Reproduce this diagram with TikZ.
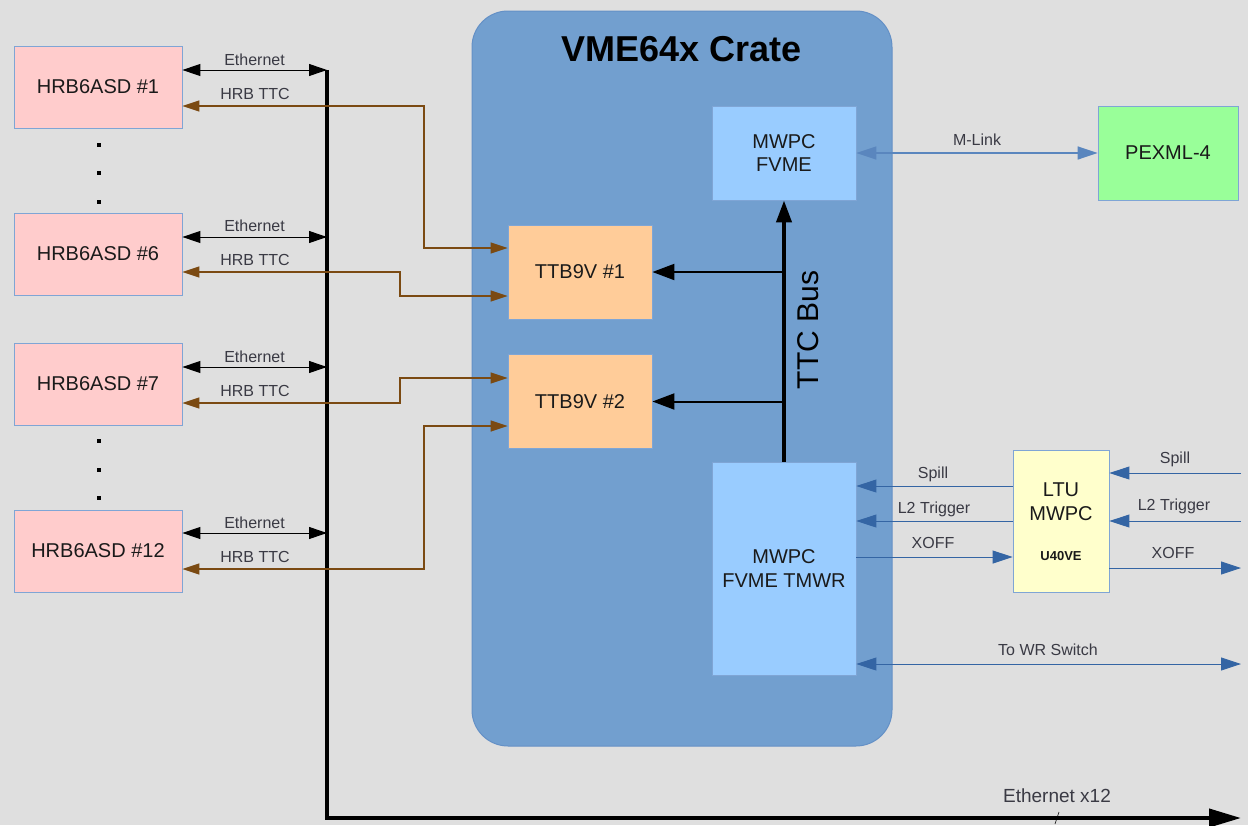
\documentclass[tikz,border=0pt]{standalone}
\usepackage{fontspec}
\setmainfont{Liberation Sans}
\usetikzlibrary{arrows.meta}
\definecolor{bgc}{HTML}{DFDFDF}
\definecolor{crateC}{HTML}{729FCF}
\definecolor{crateB}{HTML}{6490C6}
\definecolor{boxB}{HTML}{7FA5D5}
\definecolor{hrbF}{HTML}{FFCCCC}
\definecolor{ttbF}{HTML}{FFCC99}
\definecolor{fvF}{HTML}{99CCFF}
\definecolor{pxF}{HTML}{99FF99}
\definecolor{ltuF}{HTML}{FFFFCC}
\definecolor{brownC}{HTML}{7B4A12}
\definecolor{blueC}{HTML}{3465A4}
\definecolor{mlinkC}{HTML}{5A86BE}
\definecolor{lblC}{HTML}{3A3A44}
\definecolor{txtC}{HTML}{1A1A1A}
\begin{document}
\begin{tikzpicture}[x=1pt,y=-1pt,
  box/.style={draw=boxB, line width=0.8pt, inner sep=0pt, text=txtC, align=center,
    font=\fontsize{20}{23.5}\selectfont},
  hrb/.style={box, fill=hrbF, minimum width=168pt, minimum height=82pt},
  ttb/.style={box, fill=ttbF, minimum width=144pt, minimum height=94pt},
  fvme/.style={box, fill=fvF, minimum width=144pt},
  lbl/.style={anchor=base, inner sep=0pt, text=lblC, font=\fontsize{16}{19}\selectfont},
  eth/.style={draw=black, line width=1pt,
    arrows={Triangle[length=18pt,width=12pt]-Triangle[length=18pt,width=12pt]}},
  ttc/.style={draw=brownC, line width=1.5pt,
    arrows={Triangle[length=17pt,width=11pt]-Triangle[length=17pt,width=11pt]}},
  blu/.style={draw=blueC, line width=0.9pt},
  btip/.style={arrows={-Triangle[length=20pt,width=13pt]}},
  bbtip/.style={arrows={Triangle[length=20pt,width=13pt]-Triangle[length=20pt,width=13pt]}},
  tarr/.style={draw=black, line width=2pt, arrows={-Triangle[length=22pt,width=16pt]}},
  dotsq/.style={fill=black, inner sep=0pt, minimum size=4.5pt}
]
\useasboundingbox (0,0) rectangle (1248,825);
\fill[bgc] (0,0) rectangle (1248,825);

% crate
\node[draw=crateB, fill=crateC, line width=1pt, rounded corners=36pt,
  minimum width=420pt, minimum height=735pt] (crate) at (682,378.5) {};
\node[inner sep=0pt, text=black, font=\fontsize{36}{40}\selectfont\bfseries] (title) at (682,49) {VME64x Crate};

% HRB boxes
\node[hrb] (h1) at (98,87) {HRB6ASD \#1};
\node[hrb] (h6) at (98,254) {HRB6ASD \#6};
\node[hrb] (h7) at (98,384) {HRB6ASD \#7};
\node[hrb] (h12) at (98,551) {HRB6ASD \#12};

% dots
\node[dotsq] (d1) at (99,145) {};
\node[dotsq] (d2) at (99,173) {};
\node[dotsq] (d3) at (99,202) {};
\node[dotsq] (d4) at (99,441) {};
\node[dotsq] (d5) at (99,470) {};
\node[dotsq] (d6) at (99,498) {};

% crate content
\node[ttb] (t1) at (580,272) {TTB9V \#1};
\node[ttb] (t2) at (580,401.5) {TTB9V \#2};
\node[fvme, minimum height=94pt] (fv) at (784,153) {MWPC\\FVME};
\node[fvme, minimum height=213pt] (tm) at (784,568.5) {MWPC\\FVME TMWR};
\node[box, fill=pxF, minimum width=140pt, minimum height=94pt] (px) at (1168,153) {PEXML-4};
\node[box, fill=ltuF, minimum width=96pt, minimum height=142pt] (ltu) at (1061,521) {};
\node[inner sep=0pt, text=txtC, align=center, font=\fontsize{20}{23.5}\selectfont] (ltut) at (1061,501.5) {LTU\\MWPC};
\node[inner sep=0pt, text=txtC, font=\fontsize{13}{15}\selectfont\bfseries] (ltus) at (1061,556) {U40VE};

% ethernet bus
\coordinate (b1) at (327,70);
\coordinate (b6) at (327,237);
\coordinate (b7) at (327,367);
\coordinate (b12) at (327,533);
\coordinate (bc) at (327,818);
\coordinate (bend) at (1241,818);
\draw[black, line width=4pt, line join=miter, arrows={-Triangle[length=32pt,width=18pt]}] (b1) -- (bc) -- (bend);
\draw[black, line width=0.6pt] (1055,824) -- (1059,812);
\node[lbl, font=\fontsize{19}{22}\selectfont] (ex12) at (1057,802) {Ethernet x12};

% ethernet links
\draw[eth] (h1.east |- b1) -- (b1);
\draw[eth] (h6.east |- b6) -- (b6);
\draw[eth] (h7.east |- b7) -- (b7);
\draw[eth] (h12.east |- b12) -- (b12);
\node[lbl] (e1) at (254.5,65) {Ethernet};
\node[lbl] (e6) at (254.5,231) {Ethernet};
\node[lbl] (e7) at (254.5,362) {Ethernet};
\node[lbl] (e12) at (254.5,528) {Ethernet};

% HRB TTC links
\draw[ttc] ([yshift=-19pt]h1.east) -| (424,248) -- ([yshift=24pt]t1.west);
\draw[ttc] ([yshift=-18pt]h6.east) -| (400,296) -- ([yshift=-24pt]t1.west);
\draw[ttc] ([yshift=-19pt]h7.east) -| (400,378) -- ([yshift=23.5pt]t2.west);
\draw[ttc] ([yshift=-18pt]h12.east) -| (424,426) -- ([yshift=-24.5pt]t2.west);
\node[lbl] (r1) at (255,99.5) {HRB TTC};
\node[lbl] (r6) at (255,265) {HRB TTC};
\node[lbl] (r7) at (255,396) {HRB TTC};
\node[lbl] (r12) at (255,562) {HRB TTC};

% TTC bus
\draw[black, line width=4pt, arrows={-Triangle[length=22pt,width=15pt]}] (tm.north) -- (fv.south);
\draw[tarr] (tm.north |- t1.east) -- (t1.east);
\draw[tarr] (tm.north |- t2.east) -- (t2.east);
\node[inner sep=0pt, rotate=90, text=black, font=\fontsize{30}{34}\selectfont] (busl) at (808,330) {TTC Bus};

% M-Link
\draw[draw=mlinkC, line width=1.6pt, bbtip] (fv.east) -- (px.west);
\node[lbl] (ml) at (977,145) {M-Link};

% LTU links
\coordinate (yS) at (0,486);
\coordinate (yL) at (0,521);
\coordinate (yX) at (0,557);
\coordinate (rS) at (1241,473);
\coordinate (rL) at (1241,521);
\coordinate (rX) at (1241,568);
\coordinate (rW) at (1241,664);
\coordinate (yW) at (0,664);
\draw[blu, btip] (ltu.west |- yS) -- (tm.east |- yS);
\draw[blu, btip] (ltu.west |- yL) -- (tm.east |- yL);
\draw[blu, btip] (tm.east |- yX) -- (ltu.west |- yX);
\draw[blu, btip] (rS) -- (ltu.east |- rS);
\draw[blu, btip] (rL) -- (ltu.east |- rL);
\draw[blu, btip] (ltu.east |- rX) -- (rX);
\draw[blu, bbtip] (tm.east |- yW) -- (rW);
\node[lbl] (ls) at (933,478) {Spill};
\node[lbl] (ll) at (934,513) {L2 Trigger};
\node[lbl] (lx) at (933,548) {XOFF};
\node[lbl] (rs) at (1175,463) {Spill};
\node[lbl] (rl) at (1174,510) {L2 Trigger};
\node[lbl] (rx) at (1173,558) {XOFF};
\node[lbl] (wr) at (1048,655) {To WR Switch};
\end{tikzpicture}
\end{document}
